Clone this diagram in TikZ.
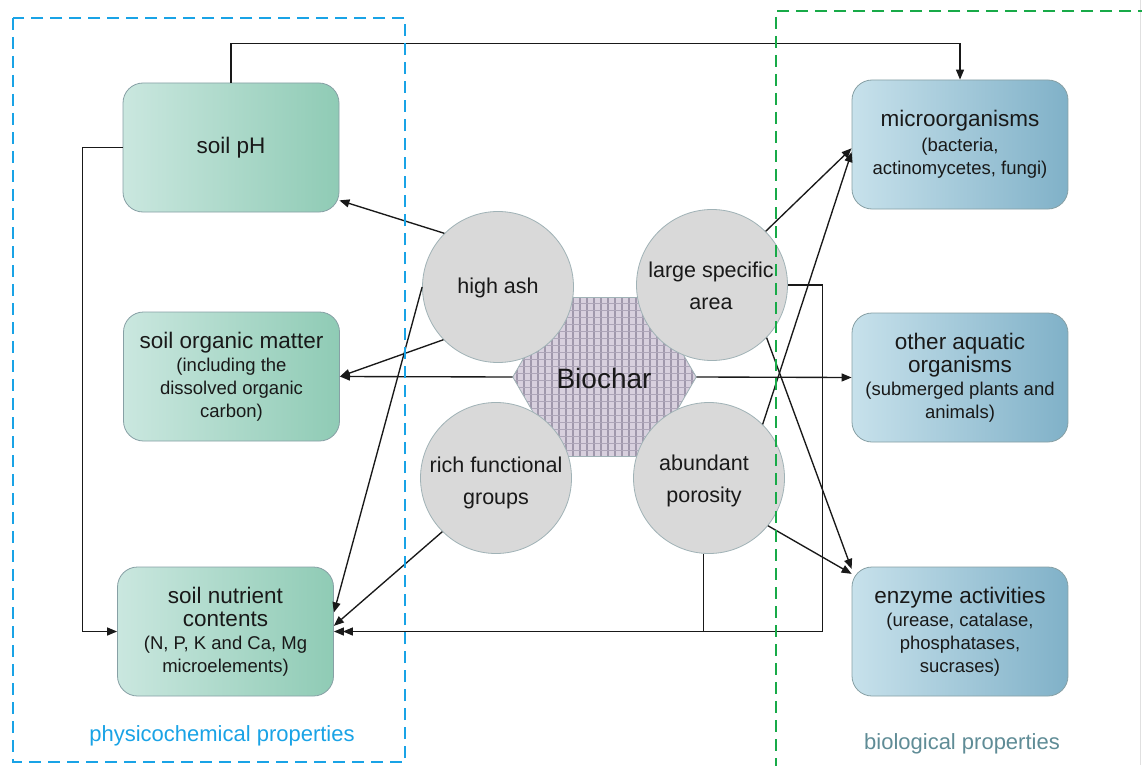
\documentclass[tikz,border=0pt]{standalone}
\usepackage{fontspec}
\setmainfont{Liberation Sans}
\usetikzlibrary{arrows.meta,shapes.geometric,calc}
\definecolor{gL}{RGB}{202,231,223}
\definecolor{gR}{RGB}{143,203,181}
\definecolor{bL}{RGB}{199,225,235}
\definecolor{bR}{RGB}{128,177,200}
\definecolor{edgec}{RGB}{135,160,165}
\definecolor{circf}{RGB}{217,217,217}
\definecolor{circe}{RGB}{160,178,182}
\definecolor{hexb}{RGB}{160,152,172}
\definecolor{hexg}{RGB}{216,208,222}
\definecolor{dblue}{RGB}{25,163,230}
\definecolor{dgreen}{RGB}{24,170,72}
\definecolor{bioc}{RGB}{95,140,150}
\definecolor{ink}{RGB}{25,25,25}
\newcommand{\mainsz}{\fontsize{22.5}{27}\selectfont}
\newcommand{\circsz}{\fontsize{21.5}{27}\selectfont}
\newcommand{\subsz}{\fontsize{18.5}{23}\selectfont}
\begin{document}
\begin{tikzpicture}[x=1pt,y=-1pt,
 box/.style={rectangle, rounded corners=20pt, draw=edgec, line width=0.8pt, minimum width=216pt, minimum height=129pt, align=center, text=ink, inner sep=2pt},
 gbox/.style={box, left color=gL, right color=gR},
 bbox/.style={box, left color=bL, right color=bR},
 circ/.style={circle, draw=circe, line width=0.8pt, fill=circf, minimum size=151pt, inner sep=0pt},
 ctext/.style={align=center, text=ink, font=\circsz, inner sep=0pt},
 arr/.style={draw=ink, line width=1.35pt, -{Triangle[length=10pt,width=8pt]}},
 dashbox/.style={line width=2.6pt, dash pattern=on 12pt off 7pt}
]
\useasboundingbox (0,0) rectangle (1142,765);
\fill[white] (0,0) rectangle (1142,765);
\draw[line width=0.8pt, black!12] (1140,0) -- (1140,765);

% boxes
\node[gbox, font=\mainsz] (ph) at (231,147.5) {soil pH};
\node[gbox, font=\subsz] (som) at (231.5,376.5) {{\mainsz soil organic matter}\\(including the\\dissolved organic\\carbon)};
\node[gbox, font=\subsz] (snc) at (225.5,631.5) {{\mainsz soil nutrient}\\{\mainsz contents}\\(N, P, K and Ca, Mg\\microelements)};
\node[bbox, font=\subsz] (micro) at (960,144.5) {{\mainsz microorganisms}\\[2pt](bacteria,\\actinomycetes, fungi)};
\node[bbox, font=\subsz] (aqua) at (960,377.5) {{\mainsz other aquatic}\\{\mainsz organisms}\\(submerged plants and\\animals)};
\node[bbox, font=\subsz] (enz) at (960,631.5) {{\mainsz enzyme activities}\\(urease, catalase,\\phosphatases,\\sucrases)};

% connectors
\draw[arr] (ph.north) -- ++(0,-39) -| (micro.north);
\draw[arr] (ph.west) -- ++(-40,0) |- (snc.west);

% biochar hexagon
\node[regular polygon, regular polygon sides=6, minimum size=183pt, inner sep=0pt, fill=hexb] (bio) at (604.5,377) {};

\draw[arr] (bio.180) -- (som.east);
\draw[arr] (bio.0) -- (aqua.west);

\begin{scope}
\clip (bio.corner 1) -- (bio.corner 2) -- (bio.corner 3) -- (bio.corner 4) -- (bio.corner 5) -- (bio.corner 6) -- cycle;
\foreach \k in {-14,...,14} {
  \draw[hexg, line width=4.6pt] ($(bio.center)+(\k*7,-95)$) -- ++(0,190);
}
\foreach \k in {-14,...,14} {
  \draw[hexb!75!hexg, line width=1.4pt] ($(bio.center)+(-100,\k*7+3.5)$) -- ++(200,0);
}
\end{scope}
\draw[circe, line width=0.8pt] (bio.corner 1) -- (bio.corner 2) -- (bio.corner 3) -- (bio.corner 4) -- (bio.corner 5) -- (bio.corner 6) -- cycle;
\node[text=ink, font=\fontsize{28}{32}\selectfont, inner sep=0pt] (bioT) at (604,378) {Biochar};

% circles
\node[circ] (ash) at (498,287) {};
\node[circ] (lsa) at (712,285) {};
\node[circ] (rich) at (496,478) {};
\node[circ] (por) at (709,478) {};
\node[ctext] (ashT) at (498,288) {high ash};
\node[ctext] (lsaT) at (711,286) {large specific\\[5pt]area};
\node[ctext] (richT) at (496,483) {rich functional\\[5pt]groups};
\node[ctext] (porT) at (704,481) {abundant\\[5pt]porosity};

\draw[arr] (ash.135) -- (ph.-26);
\draw[arr] (ash.224) -- (som.east);
\draw[arr] (ash.180) -- (snc.10);
\draw[arr] (rich.225) -- (snc.3);
\draw[arr] (por.266) |- (snc.east);
\coordinate (jr) at (822.5,631.5);
\draw[arr, shorten >=9pt] (lsa.0) -| (jr) -- (snc.east);
\draw[arr] (lsa.45) -- (micro.182);
\draw[arr] (por.45) -- (micro.184);
\draw[arr] (lsa.-44) -- (enz.150);
\draw[arr] (por.-39) -- (enz.152);

% dashed groups
\draw[dashbox, draw=dblue] (13,18) rectangle (405,762);
\draw[dashbox, draw=dgreen] (1150,11) -- (776,11) -- (776,775);

\node[text=dblue, font=\fontsize{22}{26}\selectfont, inner sep=0pt] (lphys) at (222,736) {physicochemical properties};
\node[text=bioc, font=\fontsize{22}{26}\selectfont, inner sep=0pt] (lbio) at (962,744) {biological properties};
\end{tikzpicture}
\end{document}
